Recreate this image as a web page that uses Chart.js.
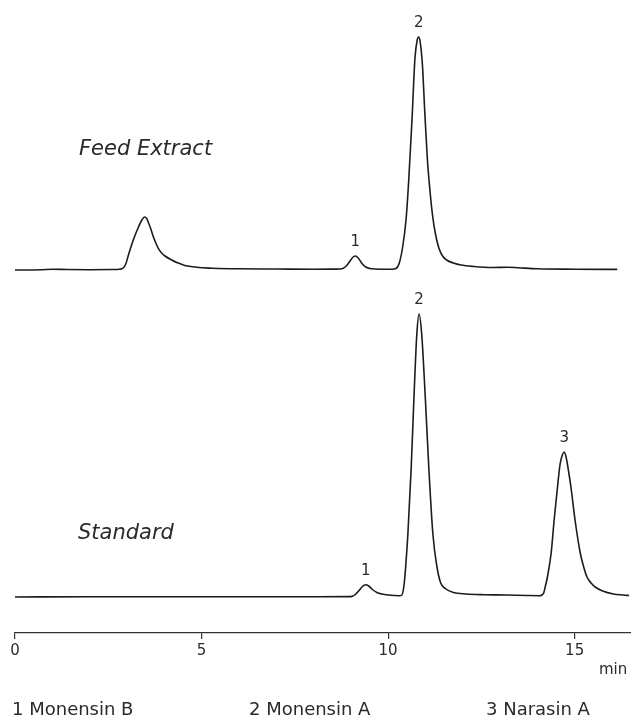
<!DOCTYPE html>
<html>
<head>
<meta charset="utf-8">
<script src="https://cdn.jsdelivr.net/npm/chart.js@4.4.1/dist/chart.umd.min.js"></script>
<style>
  body { margin: 0; background: #fff; }
  #wrap { position: relative; width: 631px; height: 718px; }
  .txt { position: absolute; font-family: "DejaVu Sans", sans-serif; color: #2a2a2a; line-height: 1; white-space: nowrap; }
</style>
</head>
<body>
<div id="wrap"><canvas id="grafico"></canvas></div>
<script>
// retention time (min) and detector response
const feedTime = [0, 0.7, 1.0, 1.4, 2.0, 2.6, 2.8, 2.9, 2.97, 3.04, 3.17, 3.31, 3.4, 3.47, 3.53, 3.57, 3.64, 3.71, 3.78, 3.84, 3.93, 4.02, 4.2, 4.35, 4.51, 4.87, 5.3, 6.0, 7.0, 8.0, 8.6,
  8.76, 8.88, 8.98, 9.05, 9.12, 9.2, 9.3, 9.4, 9.55, 9.8, 10.1,
  10.21, 10.3, 10.39, 10.48, 10.55, 10.64, 10.72, 10.78, 10.82, 10.86, 10.92, 10.98, 11.05, 11.12, 11.2, 11.28, 11.36, 11.46, 11.57, 11.75, 11.95,
  12.3, 12.8, 13.2, 13.5, 14.0, 15.0, 16.14];
const feedSignal = [0, 0.3, 0.8, 0.5, 0.3, 0.5, 0.8, 2, 6, 15, 30, 43, 50, 53, 51.5, 48, 41, 33, 26.5, 21.7, 17, 14, 10, 7.3, 5, 2.7, 1.8, 1.2, 1, 0.8, 0.9,
  1.2, 4, 9, 12.5, 14, 12, 6.5, 3, 1.2, 0.8, 0.8,
  1.5, 7, 23, 50, 88, 150, 212, 230, 233, 228, 205, 160, 112, 80, 52, 34, 22, 14, 10, 7, 5,
  3.5, 2.5, 2.8, 2.2, 1.2, 0.8, 0.6];

const stdTime = [0, 2.0, 4.0, 6.0, 8.0, 8.95, 9.03, 9.12, 9.22, 9.31, 9.4, 9.48, 9.58, 9.7, 9.83, 10.0,
  10.3, 10.37, 10.43, 10.47, 10.53, 10.62, 10.69, 10.77, 10.83, 10.9, 11.0, 11.09, 11.2, 11.31, 11.41, 11.53, 11.75,
  12.08, 12.6, 13.16, 13.7, 14.05,
  14.12, 14.17, 14.21, 14.27, 14.37, 14.45, 14.54, 14.61, 14.67, 14.72, 14.77, 14.84, 14.9, 15.01, 15.15, 15.25, 15.33, 15.44, 15.55, 15.75,
  16.04, 16.3, 16.46];
const stdSignal = [0, 0.3, 0.3, 0.2, 0.3, 0.4, 0.6, 2.5, 6.5, 10.5, 12.2, 11, 7.5, 4.5, 3, 2,
  1.3, 2, 13, 30, 63, 130, 197, 263, 283, 263, 197, 130, 63, 30, 14, 8.5, 4.5,
  3, 2.3, 2, 1.5, 1.3,
  2, 4, 10, 20, 44, 77, 110, 133, 142, 145, 140, 125, 110, 77, 44, 29, 20, 14, 10, 6,
  3, 2, 1.5];

const xTicks = [0, 5, 10, 15];
const compounds = ['1 Monensin B', '2 Monensin A', '3 Narasin A'];

// peak numbers and where they sit
const feedPeakNo = [1, 2];
const feedPeakTime = [9.12, 10.82];
const stdPeakNo = [1, 2, 3];
const stdPeakTime = [9.4, 10.83, 14.72];

function pontos(tempos, sinal) {
  return tempos.map((t, i) => ({ x: t, y: sinal[i] }));
}

const ctx = document.getElementById('grafico').getContext('2d');

let grafico = new Chart(ctx, {
  type: 'line',
  data: {
    datasets: [
      {
        label: 'Feed Extract',
        data: pontos(feedTime, feedSignal),
        yAxisID: 'yFeed',
        borderColor: '#1c1c1c',
        borderWidth: 1.6,
        pointRadius: 0,
        cubicInterpolationMode: 'monotone',
        fill: false
      },
      {
        label: 'Standard',
        data: pontos(stdTime, stdSignal),
        yAxisID: 'yStd',
        borderColor: '#1c1c1c',
        borderWidth: 1.6,
        pointRadius: 0,
        cubicInterpolationMode: 'monotone',
        fill: false
      }
    ]
  },
  options: {
    responsive: true,
    maintainAspectRatio: false,
    animation: false,
    events: [],
    layout: { padding: { left: 15, right: 0, top: 0, bottom: 55 } },
    plugins: { legend: { display: false }, tooltip: { enabled: false } },
    scales: {
      x: {
        type: 'linear',
        min: 0,
        max: 16.51,
        afterBuildTicks: (axis) => { axis.ticks = xTicks.map(v => ({ value: v })); },
        grid: { drawOnChartArea: false, drawTicks: true, tickLength: 6, color: '#333', lineWidth: 1.2 },
        border: { display: true, color: '#333', width: 1.2 },
        ticks: {
          color: '#2a2a2a',
          padding: 3,
          maxRotation: 0,
          font: { family: 'DejaVu Sans', size: 15 }
        }
      },
      // two hidden axes, same scale, different baseline
      yFeed: { display: false, min: -363, max: 270 },
      yStd: { display: false, min: -36, max: 597 }
    }
  }
});

const wrap = document.getElementById('wrap');

function texto(str, left, baseline, size, extra) {
  const el = document.createElement('div');
  el.className = 'txt';
  el.textContent = str;
  el.style.fontSize = size + 'px';
  el.style.left = left + 'px';
  el.style.top = (baseline - 0.846 * size) + 'px';
  if (extra) Object.assign(el.style, extra);
  wrap.appendChild(el);
  return el;
}

// numbers above the peaks
function rotularPicos(nums, tempos, tArr, sArr, eixo) {
  const xs = grafico.scales.x;
  const ys = grafico.scales[eixo];
  nums.forEach((n, i) => {
    const t = tempos[i];
    const h = sArr[tArr.indexOf(t)];
    texto(String(n), xs.getPixelForValue(t), ys.getPixelForValue(h) - 9, 15, { transform: 'translateX(-50%)' });
  });
}
rotularPicos(feedPeakNo, feedPeakTime, feedTime, feedSignal, 'yFeed');
rotularPicos(stdPeakNo, stdPeakTime, stdTime, stdSignal, 'yStd');

texto('Feed Extract', 79, 156, 21, { fontStyle: 'oblique' });
texto('Standard', 78, 540, 21, { fontStyle: 'oblique' });
texto('min', 599, 675, 15);

const legendX = [12, 249, 486];
compounds.forEach((c, i) => texto(c, legendX[i], 715, 18));
</script>
</body>
</html>
